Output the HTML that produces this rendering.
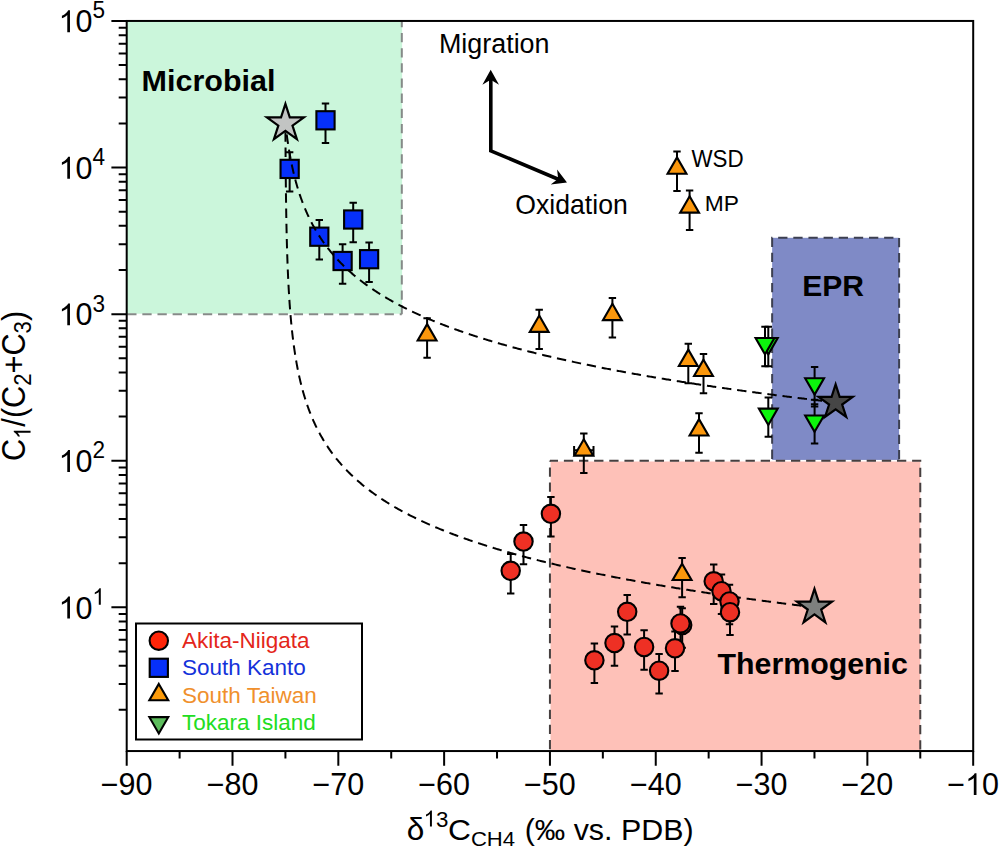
<!DOCTYPE html>
<html><head><meta charset="utf-8"><style>
html,body{margin:0;padding:0;background:#fff;}
svg{display:block;}
</style></head><body>
<svg width="1000" height="849" viewBox="0 0 1000 849">
<rect width="1000" height="849" fill="#fff"/>
<rect x="126.7" y="20.95" width="275.41" height="292.78" fill="#cbf6db"/>
<path d="M401.81,20.95 V314.13" fill="none" stroke="#868a88" stroke-width="2" stroke-dasharray="9.3 5.84" stroke-dashoffset="3.05"/>
<path d="M126.7,314.13 H401.81" fill="none" stroke="#868a88" stroke-width="2" stroke-dasharray="9.3 5.84" stroke-dashoffset="14.64"/>
<rect x="550.54" y="461.52" width="369.73" height="289.53" fill="#fec1b8"/>
<rect x="772.14" y="237.80" width="126.97" height="222.12" fill="#7f8ac6"/>
<path d="M549.94,460.72 H920.27 V751.05" fill="none" stroke="#463f3f" stroke-width="2" stroke-dasharray="9.3 5.84" stroke-dashoffset="1.2"/>
<path d="M549.94,460.72 V751.05" fill="none" stroke="#463f3f" stroke-width="2" stroke-dasharray="9.3 5.84" stroke-dashoffset="8.44"/>
<path d="M772.14,460.72 V237.80 H899.11 V460.72" fill="none" stroke="#3c3f50" stroke-width="2" stroke-dasharray="9.3 5.84" stroke-dashoffset="13.3"/>
<text x="141.62" y="91.00" font-family="'Liberation Sans', sans-serif" font-size="29.6" font-weight="bold" fill="#000" textLength="133.86" lengthAdjust="spacingAndGlyphs" >Microbial</text>
<text x="802.25" y="296.20" font-family="'Liberation Sans', sans-serif" font-size="29.8" font-weight="bold" fill="#000" textLength="61.79" lengthAdjust="spacingAndGlyphs" >EPR</text>
<text x="717.60" y="674.00" font-family="'Liberation Sans', sans-serif" font-size="29.6" font-weight="bold" fill="#000" textLength="190.28" lengthAdjust="spacingAndGlyphs" >Thermogenic</text>
<path d="M285.42,123.41 L285.43,126.52 L285.44,129.48 L285.45,132.31 L285.47,135.01 L285.48,137.61 L285.49,140.11 L285.51,142.51 L285.52,144.82 L285.53,147.06 L285.55,149.21 L285.56,151.30 L285.57,153.32 L285.59,155.28 L285.60,157.18 L285.61,159.03 L285.63,160.82 L285.64,162.56 L285.65,164.26 L285.67,165.91 L285.68,167.52 L285.69,169.10 L285.71,170.63 L285.72,172.13 L285.73,173.59 L285.75,175.02 L285.76,176.42 L285.77,177.79 L285.79,179.13 L285.80,180.44 L285.81,181.73 L285.83,182.99 L285.84,184.22 L285.85,185.44 L285.88,187.79 L285.90,190.07 L285.93,192.26 L285.96,194.38 L285.98,196.44 L286.01,198.43 L286.04,200.36 L286.06,202.23 L286.09,204.05 L286.12,205.82 L286.14,207.54 L286.17,209.21 L286.20,210.84 L286.22,212.43 L286.25,213.99 L286.27,215.50 L286.30,216.98 L286.33,218.43 L286.35,219.85 L286.38,221.23 L286.41,222.58 L286.43,223.91 L286.46,225.21 L286.49,226.48 L286.51,227.73 L286.54,228.95 L286.57,230.16 L286.61,231.92 L286.65,233.63 L286.68,235.30 L286.72,236.92 L286.76,238.51 L286.80,240.05 L286.84,241.56 L286.88,243.04 L286.92,244.48 L286.96,245.89 L287.00,247.27 L287.04,248.62 L287.08,249.94 L287.12,251.23 L287.16,252.50 L287.20,253.75 L287.24,254.97 L287.29,256.56 L287.35,258.11 L287.40,259.63 L287.45,261.11 L287.50,262.55 L287.56,263.97 L287.61,265.35 L287.66,266.71 L287.72,268.03 L287.77,269.33 L287.82,270.61 L287.88,271.86 L287.93,273.08 L287.98,274.28 L288.05,275.75 L288.11,277.19 L288.18,278.59 L288.25,279.97 L288.31,281.31 L288.38,282.63 L288.44,283.92 L288.51,285.19 L288.58,286.43 L288.64,287.65 L288.72,289.08 L288.80,290.48 L288.88,291.85 L288.96,293.19 L289.04,294.50 L289.12,295.79 L289.20,297.05 L289.28,298.28 L289.36,299.49 L289.45,300.88 L289.54,302.24 L289.63,303.57 L289.73,304.87 L289.82,306.14 L289.91,307.39 L290.00,308.62 L290.10,309.82 L290.20,311.17 L290.31,312.49 L290.41,313.78 L290.52,315.05 L290.63,316.29 L290.73,317.51 L290.84,318.70 L290.96,320.02 L291.08,321.31 L291.19,322.58 L291.31,323.82 L291.43,325.04 L291.55,326.23 L291.68,327.54 L291.82,328.81 L291.95,330.06 L292.08,331.29 L292.21,332.49 L292.36,333.79 L292.50,335.06 L292.65,336.31 L292.80,337.53 L292.94,338.73 L293.10,340.02 L293.26,341.28 L293.42,342.51 L293.58,343.72 L293.75,345.01 L293.92,346.27 L294.09,347.51 L294.26,348.72 L294.44,349.91 L294.62,351.16 L294.81,352.40 L294.99,353.61 L295.18,354.79 L295.37,356.04 L295.57,357.26 L295.77,358.47 L295.98,359.72 L296.19,360.95 L296.41,362.16 L296.62,363.35 L296.84,364.58 L297.07,365.80 L297.29,366.99 L297.53,368.22 L297.77,369.43 L298.01,370.62 L298.26,371.86 L298.51,373.07 L298.76,374.25 L299.02,375.48 L299.29,376.68 L299.55,377.86 L299.83,379.08 L300.11,380.27 L300.39,381.44 L300.68,382.65 L300.97,383.83 L301.27,385.04 L301.58,386.23 L301.88,387.40 L302.20,388.59 L302.52,389.77 L302.85,390.97 L303.18,392.15 L303.51,393.31 L303.85,394.49 L304.20,395.65 L304.55,396.83 L304.91,397.99 L305.28,399.17 L305.65,400.33 L306.03,401.51 L306.42,402.67 L306.80,403.81 L307.20,404.97 L307.60,406.10 L308.01,407.25 L308.42,408.39 L308.84,409.53 L309.26,410.66 L309.70,411.80 L310.13,412.93 L310.58,414.06 L311.03,415.18 L311.50,416.31 L311.96,417.41 L312.44,418.53 L312.93,419.67 L313.41,420.78 L313.92,421.90 L314.42,423.00 L314.94,424.12 L315.45,425.21 L315.98,426.31 L316.51,427.39 L317.05,428.49 L317.59,429.56 L318.15,430.64 L318.72,431.73 L319.29,432.80 L319.87,433.87 L320.45,434.93 L321.05,436.00 L321.64,437.04 L322.25,438.09 L322.86,439.13 L323.48,440.17 L324.12,441.22 L324.75,442.25 L325.40,443.28 L326.05,444.30 L326.71,445.32 L327.37,446.32 L328.04,447.33 L328.72,448.33 L329.41,449.32 L330.11,450.32 L330.81,451.31 L331.52,452.30 L332.24,453.27 L332.96,454.25 L333.69,455.21 L334.43,456.17 L335.17,457.12 L335.93,458.07 L336.68,459.01 L337.45,459.95 L338.21,460.88 L338.99,461.81 L339.77,462.72 L340.57,463.64 L341.36,464.55 L342.17,465.46 L342.98,466.35 L343.80,467.25 L344.62,468.13 L345.45,469.02 L346.28,469.89 L347.13,470.77 L347.98,471.63 L348.82,472.48 L349.68,473.33 L350.54,474.18 L351.41,475.02 L352.29,475.85 L353.17,476.69 L354.06,477.51 L354.95,478.33 L355.84,479.14 L356.74,479.95 L357.64,480.74 L358.56,481.54 L359.47,482.32 L360.39,483.11 L361.32,483.89 L362.25,484.66 L363.19,485.43 L364.12,486.19 L365.06,486.95 L366.02,487.70 L366.97,488.45 L367.92,489.18 L368.89,489.92 L369.85,490.65 L370.82,491.37 L371.78,492.09 L372.76,492.80 L373.74,493.51 L374.72,494.21 L375.71,494.91 L376.70,495.60 L377.69,496.29 L378.69,496.97 L379.69,497.65 L380.70,498.32 L381.70,498.99 L382.71,499.65 L383.73,500.31 L384.74,500.96 L385.76,501.61 L386.78,502.25 L387.80,502.89 L388.83,503.52 L389.86,504.15 L390.89,504.78 L391.93,505.39 L392.97,506.01 L394.02,506.63 L395.06,507.24 L396.11,507.84 L397.15,508.44 L398.20,509.03 L399.25,509.62 L400.31,510.21 L401.37,510.79 L402.43,511.37 L403.49,511.94 L404.54,512.51 L405.62,513.07 L406.69,513.64 L407.76,514.20 L408.83,514.75 L409.90,515.30 L410.97,515.84 L412.06,516.39 L413.14,516.93 L414.23,517.47 L415.31,518.00 L416.39,518.53 L417.48,519.05 L418.56,519.57 L419.65,520.09 L420.75,520.61 L421.84,521.12 L422.94,521.63 L424.04,522.13 L425.14,522.64 L426.23,523.13 L427.33,523.63 L428.43,524.12 L429.53,524.60 L430.64,525.09 L431.75,525.57 L432.86,526.05 L433.97,526.53 L435.08,527.01 L436.19,527.48 L437.31,527.94 L438.42,528.41 L439.53,528.87 L440.64,529.32 L441.76,529.78 L442.89,530.24 L444.01,530.69 L445.14,531.14 L446.26,531.58 L447.38,532.03 L448.51,532.46 L449.63,532.90 L450.76,533.34 L451.88,533.77 L453.00,534.19 L454.13,534.62 L455.25,535.04 L456.39,535.47 L457.53,535.89 L458.67,536.31 L459.80,536.72 L460.94,537.13 L462.08,537.55 L463.22,537.95 L464.35,538.36 L465.49,538.76 L466.63,539.16 L467.77,539.56 L468.90,539.95 L470.04,540.35 L471.18,540.74 L472.32,541.13 L473.45,541.51 L474.59,541.90 L475.74,542.28 L476.89,542.66 L478.04,543.04 L479.19,543.42 L480.34,543.80 L481.49,544.17 L482.64,544.55 L483.80,544.92 L484.95,545.28 L486.10,545.65 L487.25,546.01 L488.40,546.37 L489.55,546.73 L490.70,547.09 L491.85,547.45 L493.00,547.80 L494.15,548.15 L495.30,548.50 L496.45,548.85 L497.60,549.19 L498.75,549.54 L499.91,549.88 L501.07,550.22 L502.23,550.57 L503.40,550.91 L504.56,551.25 L505.72,551.58 L506.89,551.92 L508.05,552.25 L509.22,552.58 L510.38,552.91 L511.54,553.24 L512.71,553.57 L513.87,553.89 L515.04,554.21 L516.20,554.54 L517.36,554.86 L518.53,555.17 L519.69,555.49 L520.86,555.81 L522.02,556.12 L523.18,556.43 L524.35,556.74 L525.51,557.05 L526.68,557.36 L527.84,557.67 L529.00,557.97 L530.17,558.27 L531.33,558.57 L532.49,558.87 L533.66,559.17 L534.82,559.47 L535.99,559.77 L537.15,560.06 L538.31,560.36 L539.49,560.65 L540.67,560.94 L541.85,561.24 L543.02,561.53 L544.20,561.82 L545.38,562.11 L546.55,562.39 L547.73,562.68 L548.91,562.97 L550.09,563.25 L551.26,563.53 L552.44,563.81 L553.62,564.09 L554.79,564.37 L555.97,564.65 L557.15,564.92 L558.33,565.20 L559.50,565.47 L560.68,565.74 L561.86,566.02 L563.03,566.29 L564.21,566.56 L565.39,566.82 L566.57,567.09 L567.74,567.36 L568.92,567.62 L570.10,567.88 L571.27,568.15 L572.45,568.41 L573.63,568.67 L574.81,568.93 L575.98,569.19 L577.16,569.44 L578.34,569.70 L579.51,569.95 L580.69,570.21 L581.87,570.46 L583.05,570.71 L584.22,570.96 L585.40,571.21 L586.58,571.46 L587.75,571.71 L588.93,571.96 L590.11,572.21 L591.29,572.45 L592.46,572.70 L593.64,572.94 L594.82,573.18 L595.99,573.42 L597.17,573.66 L598.35,573.90 L599.53,574.14 L600.70,574.38 L601.88,574.62 L603.06,574.85 L604.23,575.09 L605.41,575.32 L606.59,575.56 L607.78,575.79 L608.97,576.03 L610.16,576.26 L611.35,576.49 L612.54,576.72 L613.73,576.96 L614.92,577.19 L616.11,577.41 L617.30,577.64 L618.49,577.87 L619.68,578.10 L620.87,578.32 L622.06,578.55 L623.25,578.77 L624.44,579.00 L625.63,579.22 L626.82,579.44 L628.01,579.66 L629.20,579.88 L630.40,580.10 L631.59,580.32 L632.78,580.54 L633.97,580.76 L635.16,580.98 L636.35,581.19 L637.54,581.41 L638.73,581.62 L639.92,581.84 L641.11,582.05 L642.30,582.26 L643.49,582.47 L644.68,582.69 L645.87,582.90 L647.06,583.11 L648.25,583.32 L649.44,583.52 L650.63,583.73 L651.82,583.94 L653.01,584.14 L654.20,584.35 L655.39,584.56 L656.58,584.76 L657.77,584.96 L658.96,585.17 L660.15,585.37 L661.34,585.57 L662.54,585.77 L663.73,585.97 L664.92,586.17 L666.11,586.37 L667.30,586.57 L668.49,586.77 L669.68,586.97 L670.87,587.16 L672.06,587.36 L673.25,587.55 L674.44,587.75 L675.63,587.94 L676.82,588.14 L678.01,588.33 L679.20,588.52 L680.39,588.71 L681.58,588.91 L682.77,589.10 L683.96,589.29 L685.15,589.48 L686.34,589.67 L687.53,589.85 L688.72,590.04 L689.91,590.23 L691.10,590.42 L692.29,590.60 L693.48,590.79 L694.67,590.97 L695.87,591.16 L697.06,591.34 L698.25,591.53 L699.44,591.71 L700.63,591.89 L701.82,592.08 L703.01,592.26 L704.20,592.44 L705.39,592.62 L706.58,592.80 L707.77,592.98 L708.96,593.16 L710.15,593.34 L711.34,593.51 L712.53,593.69 L713.72,593.87 L714.91,594.05 L716.10,594.22 L717.29,594.40 L718.48,594.57 L719.67,594.75 L720.86,594.92 L722.05,595.09 L723.24,595.27 L724.43,595.44 L725.62,595.61 L726.81,595.78 L728.01,595.96 L729.20,596.13 L730.39,596.30 L731.58,596.47 L732.77,596.64 L733.96,596.81 L735.15,596.97 L736.34,597.14 L737.53,597.31 L738.72,597.48 L739.91,597.64 L741.10,597.81 L742.29,597.98 L743.48,598.14 L744.67,598.31 L745.86,598.47 L747.05,598.64 L748.24,598.80 L749.43,598.96 L750.62,599.13 L751.81,599.29 L753.00,599.45 L754.19,599.61 L755.38,599.78 L756.57,599.94 L757.76,600.10 L758.95,600.26 L760.14,600.42 L761.34,600.58 L762.53,600.73 L763.72,600.89 L764.91,601.05 L766.10,601.21 L767.29,601.37 L768.48,601.52 L769.67,601.68 L770.86,601.84 L772.05,601.99 L773.24,602.15 L774.43,602.30 L775.62,602.46 L776.81,602.61 L778.00,602.77 L779.19,602.92 L780.38,603.07 L781.57,603.23 L782.76,603.38 L783.95,603.53 L785.16,603.68 L786.36,603.84 L787.56,603.99 L788.77,604.14 L789.97,604.29 L791.17,604.45 L792.38,604.60 L793.58,604.75 L794.78,604.90 L795.99,605.05 L797.19,605.20 L798.40,605.35 L799.60,605.50 L800.80,605.65 L802.01,605.79 L803.21,605.94 L804.41,606.09 L805.62,606.24 L806.82,606.38 L808.02,606.53 L809.23,606.68 L810.43,606.82 L811.63,606.97 L812.84,607.11 L814.04,607.26 L814.47,607.31" fill="none" stroke="#000" stroke-width="2" stroke-dasharray="9.4 5.85" stroke-dashoffset="6.4"/>
<path d="M325.50,103.60 V143.01 M321.80,103.60 H329.20 M321.80,143.01 H329.20" stroke="#000" stroke-width="2" fill="none"/>
<path d="M289.65,152.20 V191.61 M285.95,152.20 H293.35 M285.95,191.61 H293.35" stroke="#000" stroke-width="2" fill="none"/>
<path d="M319.30,220.00 V259.41 M315.60,220.00 H323.00 M315.60,259.41 H323.00" stroke="#000" stroke-width="2" fill="none"/>
<path d="M353.20,202.80 V242.21 M349.50,202.80 H356.90 M349.50,242.21 H356.90" stroke="#000" stroke-width="2" fill="none"/>
<path d="M342.60,244.30 V283.71 M338.90,244.30 H346.30 M338.90,283.71 H346.30" stroke="#000" stroke-width="2" fill="none"/>
<path d="M369.10,242.50 V281.91 M365.40,242.50 H372.80 M365.40,281.91 H372.80" stroke="#000" stroke-width="2" fill="none"/>
<rect x="316.40" y="111.20" width="18.20" height="18.20" fill="#0630fa" stroke="#000" stroke-width="2.1"/>
<rect x="280.55" y="159.80" width="18.20" height="18.20" fill="#0630fa" stroke="#000" stroke-width="2.1"/>
<rect x="310.20" y="227.60" width="18.20" height="18.20" fill="#0630fa" stroke="#000" stroke-width="2.1"/>
<rect x="344.10" y="210.40" width="18.20" height="18.20" fill="#0630fa" stroke="#000" stroke-width="2.1"/>
<rect x="333.50" y="251.90" width="18.20" height="18.20" fill="#0630fa" stroke="#000" stroke-width="2.1"/>
<rect x="360.00" y="250.10" width="18.20" height="18.20" fill="#0630fa" stroke="#000" stroke-width="2.1"/>
<path d="M285.42,123.41 L285.55,124.66 L285.69,125.88 L285.83,127.08 L285.98,128.37 L286.13,129.64 L286.28,130.88 L286.43,132.10 L286.58,133.29 L286.75,134.57 L286.91,135.82 L287.08,137.05 L287.24,138.26 L287.42,139.54 L287.60,140.80 L287.78,142.03 L287.96,143.24 L288.15,144.51 L288.34,145.77 L288.54,146.99 L288.73,148.20 L288.94,149.46 L289.14,150.70 L289.35,151.92 L289.56,153.11 L289.78,154.36 L290.00,155.59 L290.22,156.79 L290.44,157.97 L290.67,159.20 L290.90,160.41 L291.14,161.59 L291.38,162.82 L291.63,164.03 L291.88,165.21 L292.14,166.44 L292.40,167.64 L292.66,168.83 L292.94,170.05 L293.21,171.24 L293.49,172.42 L293.78,173.63 L294.07,174.82 L294.36,175.99 L294.66,177.19 L294.96,178.36 L295.28,179.57 L295.59,180.76 L295.91,181.92 L296.24,183.11 L296.57,184.29 L296.91,185.48 L297.26,186.66 L297.60,187.81 L297.96,188.99 L298.32,190.14 L298.69,191.32 L299.06,192.48 L299.45,193.66 L299.83,194.82 L300.22,195.95 L300.61,197.11 L301.01,198.25 L301.43,199.40 L301.84,200.53 L302.27,201.68 L302.69,202.81 L303.13,203.96 L303.57,205.08 L304.03,206.22 L304.48,207.34 L304.95,208.48 L305.42,209.59 L305.90,210.72 L306.38,211.83 L306.87,212.94 L307.37,214.04 L307.88,215.15 L308.39,216.25 L308.91,217.35 L309.43,218.43 L309.97,219.52 L310.50,220.60 L311.05,221.68 L311.62,222.77 L312.18,223.85 L312.76,224.93 L313.34,225.99 L313.93,227.06 L314.52,228.11 L315.13,229.17 L315.73,230.22 L316.35,231.26 L316.97,232.30 L317.60,233.33 L318.24,234.35 L318.88,235.38 L319.54,236.41 L320.20,237.43 L320.88,238.45 L321.55,239.45 L322.24,240.46 L322.93,241.45 L323.63,242.45 L324.33,243.43 L325.04,244.41 L325.76,245.38 L326.49,246.35 L327.22,247.31 L327.96,248.28 L328.70,249.22 L329.46,250.18 L330.22,251.11 L330.99,252.05 L331.76,252.98 L332.54,253.91 L333.32,254.83 L334.12,255.74 L334.92,256.65 L335.73,257.56 L336.54,258.45 L337.37,259.35 L338.19,260.24 L339.02,261.11 L339.86,261.99 L340.70,262.85 L341.55,263.72 L342.40,264.57 L343.27,265.43 L344.14,266.27 L345.00,267.11 L345.88,267.95 L346.76,268.77 L347.66,269.60 L348.55,270.42 L349.45,271.22 L350.35,272.03 L351.26,272.83 L352.17,273.62 L353.09,274.41 L354.01,275.19 L354.93,275.96 L355.87,276.74 L356.81,277.50 L357.74,278.26 L358.69,279.01 L359.64,279.76 L360.59,280.50 L361.55,281.25 L362.51,281.98 L363.48,282.70 L364.44,283.42 L365.42,284.14 L366.39,284.85 L367.37,285.55 L368.36,286.26 L369.35,286.96 L370.34,287.65 L371.33,288.33 L372.33,289.01 L373.34,289.69 L374.34,290.36 L375.35,291.02 L376.37,291.69 L377.38,292.35 L378.40,293.00 L379.42,293.64 L380.44,294.28 L381.47,294.92 L382.50,295.56 L383.53,296.19 L384.56,296.81 L385.59,297.42 L386.64,298.04 L387.69,298.65 L388.73,299.26 L389.78,299.86 L390.82,300.46 L391.87,301.05 L392.93,301.64 L393.99,302.22 L395.04,302.81 L396.10,303.38 L397.16,303.95 L398.22,304.52 L399.30,305.08 L400.37,305.65 L401.44,306.21 L402.51,306.76 L403.59,307.31 L404.66,307.85 L405.73,308.39 L406.82,308.93 L407.91,309.47 L408.99,310.00 L410.08,310.53 L411.17,311.05 L412.25,311.57 L413.34,312.08 L414.43,312.59 L415.53,313.11 L416.63,313.62 L417.73,314.12 L418.83,314.62 L419.93,315.12 L421.03,315.61 L422.13,316.10 L423.23,316.59 L424.33,317.07 L425.44,317.56 L426.56,318.04 L427.67,318.51 L428.79,318.99 L429.90,319.46 L431.01,319.92 L432.13,320.39 L433.24,320.85 L434.36,321.30 L435.47,321.76 L436.59,322.21 L437.70,322.65 L438.83,323.10 L439.96,323.55 L441.08,323.99 L442.21,324.43 L443.34,324.87 L444.47,325.30 L445.60,325.73 L446.72,326.16 L447.85,326.59 L448.98,327.01 L450.11,327.43 L451.24,327.85 L452.36,328.26 L453.49,328.67 L454.63,329.09 L455.77,329.50 L456.92,329.91 L458.06,330.31 L459.20,330.72 L460.34,331.12 L461.48,331.51 L462.62,331.91 L463.77,332.30 L464.91,332.70 L466.05,333.08 L467.19,333.47 L468.33,333.85 L469.47,334.24 L470.62,334.62 L471.76,334.99 L472.90,335.37 L474.04,335.74 L475.18,336.11 L476.34,336.48 L477.49,336.85 L478.65,337.22 L479.80,337.59 L480.96,337.95 L482.12,338.32 L483.27,338.68 L484.43,339.03 L485.58,339.39 L486.74,339.74 L487.89,340.10 L489.05,340.45 L490.20,340.79 L491.36,341.14 L492.51,341.49 L493.67,341.83 L494.83,342.17 L495.98,342.51 L497.14,342.85 L498.29,343.18 L499.45,343.51 L500.60,343.85 L501.76,344.18 L502.91,344.51 L504.07,344.83 L505.22,345.16 L506.39,345.48 L507.56,345.81 L508.73,346.13 L509.90,346.46 L511.07,346.78 L512.24,347.10 L513.41,347.41 L514.58,347.73 L515.75,348.05 L516.92,348.36 L518.09,348.67 L519.26,348.98 L520.42,349.29 L521.59,349.59 L522.76,349.90 L523.93,350.20 L525.10,350.51 L526.27,350.81 L527.44,351.11 L528.61,351.41 L529.78,351.70 L530.95,352.00 L532.12,352.29 L533.29,352.58 L534.45,352.88 L535.62,353.17 L536.79,353.45 L537.96,353.74 L539.13,354.03 L540.30,354.31 L541.47,354.60 L542.64,354.88 L543.81,355.16 L544.98,355.44 L546.15,355.72 L547.32,356.00 L548.49,356.27 L549.65,356.55 L550.82,356.82 L551.99,357.09 L553.16,357.37 L554.33,357.64 L555.51,357.91 L556.70,358.18 L557.88,358.45 L559.06,358.72 L560.25,358.99 L561.43,359.25 L562.61,359.52 L563.79,359.78 L564.98,360.05 L566.16,360.31 L567.34,360.57 L568.53,360.83 L569.71,361.09 L570.89,361.35 L572.08,361.60 L573.26,361.86 L574.44,362.12 L575.62,362.37 L576.81,362.62 L577.99,362.87 L579.17,363.13 L580.36,363.38 L581.54,363.62 L582.72,363.87 L583.91,364.12 L585.09,364.37 L586.27,364.61 L587.45,364.85 L588.64,365.10 L589.82,365.34 L591.00,365.58 L592.19,365.82 L593.37,366.06 L594.55,366.30 L595.73,366.54 L596.92,366.78 L598.10,367.01 L599.28,367.25 L600.47,367.48 L601.65,367.71 L602.83,367.95 L604.02,368.18 L605.20,368.41 L606.38,368.64 L607.56,368.87 L608.75,369.10 L609.93,369.32 L611.11,369.55 L612.30,369.78 L613.48,370.00 L614.66,370.23 L615.84,370.45 L617.03,370.67 L618.21,370.90 L619.39,371.12 L620.58,371.34 L621.76,371.56 L622.94,371.78 L624.13,371.99 L625.31,372.21 L626.49,372.43 L627.67,372.64 L628.86,372.86 L630.04,373.07 L631.22,373.29 L632.41,373.50 L633.59,373.71 L634.77,373.93 L635.96,374.14 L637.14,374.35 L638.32,374.56 L639.50,374.77 L640.69,374.97 L641.87,375.18 L643.05,375.39 L644.24,375.59 L645.42,375.80 L646.60,376.00 L647.78,376.21 L648.97,376.41 L650.15,376.62 L651.33,376.82 L652.52,377.02 L653.71,377.22 L654.91,377.43 L656.11,377.63 L657.30,377.83 L658.50,378.03 L659.70,378.23 L660.89,378.43 L662.09,378.63 L663.29,378.83 L664.48,379.02 L665.68,379.22 L666.88,379.42 L668.07,379.61 L669.27,379.81 L670.47,380.00 L671.66,380.20 L672.86,380.39 L674.06,380.58 L675.25,380.78 L676.45,380.97 L677.65,381.16 L678.84,381.35 L680.04,381.54 L681.24,381.73 L682.43,381.92 L683.63,382.11 L684.83,382.29 L686.02,382.48 L687.22,382.67 L688.42,382.85 L689.61,383.04 L690.81,383.22 L692.01,383.41 L693.20,383.59 L694.40,383.78 L695.60,383.96 L696.79,384.14 L697.99,384.32 L699.19,384.50 L700.38,384.69 L701.58,384.87 L702.78,385.05 L703.98,385.22 L705.17,385.40 L706.37,385.58 L707.57,385.76 L708.76,385.94 L709.96,386.11 L711.16,386.29 L712.35,386.47 L713.55,386.64 L714.75,386.82 L715.94,386.99 L717.14,387.16 L718.34,387.34 L719.53,387.51 L720.73,387.68 L721.93,387.86 L723.12,388.03 L724.32,388.20 L725.52,388.37 L726.71,388.54 L727.91,388.71 L729.11,388.88 L730.30,389.05 L731.50,389.22 L732.70,389.38 L733.89,389.55 L735.09,389.72 L736.29,389.88 L737.48,390.05 L738.68,390.22 L739.88,390.38 L741.07,390.55 L742.27,390.71 L743.47,390.88 L744.66,391.04 L745.86,391.20 L747.06,391.36 L748.25,391.53 L749.45,391.69 L750.65,391.85 L751.84,392.01 L753.04,392.17 L754.24,392.33 L755.43,392.49 L756.63,392.65 L757.83,392.81 L759.02,392.97 L760.22,393.13 L761.42,393.29 L762.61,393.44 L763.81,393.60 L765.01,393.76 L766.20,393.91 L767.40,394.07 L768.60,394.23 L769.79,394.38 L770.99,394.54 L772.19,394.69 L773.38,394.84 L774.58,395.00 L775.78,395.15 L776.97,395.30 L778.17,395.46 L779.37,395.61 L780.56,395.76 L781.76,395.91 L782.96,396.06 L784.15,396.22 L785.35,396.37 L786.55,396.52 L787.74,396.67 L788.94,396.81 L790.14,396.96 L791.33,397.11 L792.53,397.26 L793.73,397.41 L794.93,397.56 L796.12,397.70 L797.32,397.85 L798.52,398.00 L799.71,398.14 L800.91,398.29 L802.11,398.44 L803.30,398.58 L804.50,398.73 L805.70,398.87 L806.89,399.02 L808.09,399.16 L809.29,399.30 L810.48,399.45 L811.68,399.59 L812.88,399.73 L814.07,399.87 L815.27,400.02 L816.47,400.16 L817.66,400.30 L818.86,400.44 L820.06,400.58 L821.25,400.72 L822.45,400.86 L823.65,401.00 L824.84,401.14 L826.04,401.28 L827.24,401.42 L828.43,401.56 L829.63,401.70 L830.83,401.84 L832.02,401.97 L833.22,402.11 L834.42,402.25 L835.61,402.38 L835.63,402.39" fill="none" stroke="#000" stroke-width="2" stroke-dasharray="9.4 5.85" stroke-dashoffset="4.08"/>
<path d="M550.90,497.10 V536.51 M547.20,497.10 H554.60 M547.20,536.51 H554.60" stroke="#000" stroke-width="2" fill="none"/>
<path d="M523.50,524.90 V564.31 M519.80,524.90 H527.20 M519.80,564.31 H527.20" stroke="#000" stroke-width="2" fill="none"/>
<path d="M510.70,554.10 V593.51 M507.00,554.10 H514.40 M507.00,593.51 H514.40" stroke="#000" stroke-width="2" fill="none"/>
<path d="M594.40,643.60 V683.01 M590.70,643.60 H598.10 M590.70,683.01 H598.10" stroke="#000" stroke-width="2" fill="none"/>
<path d="M614.50,626.40 V665.81 M610.80,626.40 H618.20 M610.80,665.81 H618.20" stroke="#000" stroke-width="2" fill="none"/>
<path d="M627.20,595.10 V634.51 M623.50,595.10 H630.90 M623.50,634.51 H630.90" stroke="#000" stroke-width="2" fill="none"/>
<path d="M644.10,630.30 V669.71 M640.40,630.30 H647.80 M640.40,669.71 H647.80" stroke="#000" stroke-width="2" fill="none"/>
<path d="M659.10,654.00 V693.41 M655.40,654.00 H662.80 M655.40,693.41 H662.80" stroke="#000" stroke-width="2" fill="none"/>
<path d="M675.00,631.60 V671.01 M671.30,631.60 H678.70 M671.30,671.01 H678.70" stroke="#000" stroke-width="2" fill="none"/>
<path d="M682.20,608.30 V647.71 M678.50,608.30 H685.90 M678.50,647.71 H685.90" stroke="#000" stroke-width="2" fill="none"/>
<path d="M680.50,606.70 V646.11 M676.80,606.70 H684.20 M676.80,646.11 H684.20" stroke="#000" stroke-width="2" fill="none"/>
<path d="M713.70,564.60 V604.01 M710.00,564.60 H717.40 M710.00,604.01 H717.40" stroke="#000" stroke-width="2" fill="none"/>
<path d="M721.50,574.50 V613.91 M717.80,574.50 H725.20 M717.80,613.91 H725.20" stroke="#000" stroke-width="2" fill="none"/>
<path d="M729.50,584.80 V624.21 M725.80,584.80 H733.20 M725.80,624.21 H733.20" stroke="#000" stroke-width="2" fill="none"/>
<path d="M730.00,595.50 V634.91 M726.30,595.50 H733.70 M726.30,634.91 H733.70" stroke="#000" stroke-width="2" fill="none"/>
<circle cx="550.90" cy="513.80" r="9.2" fill="#ee3024" stroke="#000" stroke-width="2.1"/>
<circle cx="523.50" cy="541.60" r="9.2" fill="#ee3024" stroke="#000" stroke-width="2.1"/>
<circle cx="510.70" cy="570.80" r="9.2" fill="#ee3024" stroke="#000" stroke-width="2.1"/>
<circle cx="594.40" cy="660.30" r="9.2" fill="#ee3024" stroke="#000" stroke-width="2.1"/>
<circle cx="614.50" cy="643.10" r="9.2" fill="#ee3024" stroke="#000" stroke-width="2.1"/>
<circle cx="627.20" cy="611.80" r="9.2" fill="#ee3024" stroke="#000" stroke-width="2.1"/>
<circle cx="644.10" cy="647.00" r="9.2" fill="#ee3024" stroke="#000" stroke-width="2.1"/>
<circle cx="659.10" cy="670.70" r="9.2" fill="#ee3024" stroke="#000" stroke-width="2.1"/>
<circle cx="675.00" cy="648.30" r="9.2" fill="#ee3024" stroke="#000" stroke-width="2.1"/>
<circle cx="682.20" cy="625.00" r="9.2" fill="#ee3024" stroke="#000" stroke-width="2.1"/>
<circle cx="680.50" cy="623.40" r="9.2" fill="#ee3024" stroke="#000" stroke-width="2.1"/>
<circle cx="713.70" cy="581.30" r="9.2" fill="#ee3024" stroke="#000" stroke-width="2.1"/>
<circle cx="721.50" cy="591.20" r="9.2" fill="#ee3024" stroke="#000" stroke-width="2.1"/>
<circle cx="729.50" cy="601.50" r="9.2" fill="#ee3024" stroke="#000" stroke-width="2.1"/>
<circle cx="730.00" cy="612.20" r="9.2" fill="#ee3024" stroke="#000" stroke-width="2.1"/>
<path d="M427.10,318.30 V357.71 M423.40,318.30 H430.80 M423.40,357.71 H430.80" stroke="#000" stroke-width="2" fill="none"/>
<path d="M539.20,309.70 V349.11 M535.50,309.70 H542.90 M535.50,349.11 H542.90" stroke="#000" stroke-width="2" fill="none"/>
<path d="M612.40,298.00 V337.41 M608.70,298.00 H616.10 M608.70,337.41 H616.10" stroke="#000" stroke-width="2" fill="none"/>
<path d="M677.00,151.60 V191.01 M673.30,151.60 H680.70 M673.30,191.01 H680.70" stroke="#000" stroke-width="2" fill="none"/>
<path d="M689.60,190.50 V229.91 M685.90,190.50 H693.30 M685.90,229.91 H693.30" stroke="#000" stroke-width="2" fill="none"/>
<path d="M688.30,343.80 V383.21 M684.60,343.80 H692.00 M684.60,383.21 H692.00" stroke="#000" stroke-width="2" fill="none"/>
<path d="M703.50,353.90 V393.31 M699.80,353.90 H707.20 M699.80,393.31 H707.20" stroke="#000" stroke-width="2" fill="none"/>
<path d="M699.00,413.30 V452.71 M695.30,413.30 H702.70 M695.30,452.71 H702.70" stroke="#000" stroke-width="2" fill="none"/>
<path d="M682.10,557.90 V597.31 M678.40,557.90 H685.80 M678.40,597.31 H685.80" stroke="#000" stroke-width="2" fill="none"/>
<path d="M583.80,433.50 V472.91 M580.10,433.50 H587.50 M580.10,472.91 H587.50" stroke="#000" stroke-width="2" fill="none"/>
<path d="M574.10,450.20 H593.50 M574.10,445.90 V455.70 M593.50,445.90 V455.70" stroke="#000" stroke-width="2" fill="none"/>
<polygon points="427.10,324.10 436.54,340.45 417.66,340.45" fill="#fb970c" stroke="#000" stroke-width="2.1" stroke-linejoin="miter"/>
<polygon points="539.20,315.50 548.64,331.85 529.76,331.85" fill="#fb970c" stroke="#000" stroke-width="2.1" stroke-linejoin="miter"/>
<polygon points="612.40,303.80 621.84,320.15 602.96,320.15" fill="#fb970c" stroke="#000" stroke-width="2.1" stroke-linejoin="miter"/>
<polygon points="677.00,157.40 686.44,173.75 667.56,173.75" fill="#fb970c" stroke="#000" stroke-width="2.1" stroke-linejoin="miter"/>
<polygon points="689.60,196.30 699.04,212.65 680.16,212.65" fill="#fb970c" stroke="#000" stroke-width="2.1" stroke-linejoin="miter"/>
<polygon points="688.30,349.60 697.74,365.95 678.86,365.95" fill="#fb970c" stroke="#000" stroke-width="2.1" stroke-linejoin="miter"/>
<polygon points="703.50,359.70 712.94,376.05 694.06,376.05" fill="#fb970c" stroke="#000" stroke-width="2.1" stroke-linejoin="miter"/>
<polygon points="699.00,419.10 708.44,435.45 689.56,435.45" fill="#fb970c" stroke="#000" stroke-width="2.1" stroke-linejoin="miter"/>
<polygon points="682.10,563.70 691.54,580.05 672.66,580.05" fill="#fb970c" stroke="#000" stroke-width="2.1" stroke-linejoin="miter"/>
<polygon points="583.80,439.30 593.24,455.65 574.36,455.65" fill="#fb970c" stroke="#000" stroke-width="2.1" stroke-linejoin="miter"/>
<path d="M768.30,326.80 V366.21 M764.60,326.80 H772.00 M764.60,366.21 H772.00" stroke="#000" stroke-width="2" fill="none"/>
<path d="M765.00,326.80 V366.21 M761.30,326.80 H768.70 M761.30,366.21 H768.70" stroke="#000" stroke-width="2" fill="none"/>
<path d="M768.30,397.40 V436.81 M764.60,397.40 H772.00 M764.60,436.81 H772.00" stroke="#000" stroke-width="2" fill="none"/>
<path d="M814.60,367.00 V406.41 M810.90,367.00 H818.30 M810.90,406.41 H818.30" stroke="#000" stroke-width="2" fill="none"/>
<path d="M814.60,404.20 V443.61 M810.90,404.20 H818.30 M810.90,443.61 H818.30" stroke="#000" stroke-width="2" fill="none"/>
<path d="M810.90,399.8 H818.30" stroke="#000" stroke-width="2"/>
<polygon points="768.30,354.40 777.74,338.05 758.86,338.05" fill="#0cf50c" stroke="#000" stroke-width="2.1" stroke-linejoin="miter"/>
<polygon points="765.00,354.40 774.44,338.05 755.56,338.05" fill="#0cf50c" stroke="#000" stroke-width="2.1" stroke-linejoin="miter"/>
<polygon points="768.30,425.00 777.74,408.65 758.86,408.65" fill="#0cf50c" stroke="#000" stroke-width="2.1" stroke-linejoin="miter"/>
<polygon points="814.60,394.60 824.04,378.25 805.16,378.25" fill="#0cf50c" stroke="#000" stroke-width="2.1" stroke-linejoin="miter"/>
<polygon points="814.60,431.80 824.04,415.45 805.16,415.45" fill="#0cf50c" stroke="#000" stroke-width="2.1" stroke-linejoin="miter"/>
<polygon points="285.42,103.91 289.79,117.39 303.96,117.39 292.50,125.71 296.88,139.19 285.42,130.86 273.95,139.19 278.33,125.71 266.87,117.39 281.04,117.39" fill="#c2c4c3" stroke="#000" stroke-width="2.2" stroke-linejoin="miter" stroke-miterlimit="10"/>
<polygon points="835.63,384.39 839.67,396.82 852.75,396.82 842.17,404.51 846.21,416.95 835.63,409.26 825.05,416.95 829.09,404.51 818.51,396.82 831.59,396.82" fill="#464646" stroke="#000" stroke-width="2.2" stroke-linejoin="miter" stroke-miterlimit="10"/>
<polygon points="814.47,588.81 818.62,601.59 832.06,601.59 821.19,609.49 825.34,622.28 814.47,614.38 803.59,622.28 807.74,609.49 796.87,601.59 810.31,601.59" fill="#7e807e" stroke="#000" stroke-width="2.2" stroke-linejoin="miter" stroke-miterlimit="10"/>
<text x="691.49" y="167.40" font-family="'Liberation Sans', sans-serif" font-size="23.0" fill="#000" textLength="52.19" lengthAdjust="spacingAndGlyphs" >WSD</text>
<text x="704.78" y="211.40" font-family="'Liberation Sans', sans-serif" font-size="22.8" fill="#000" textLength="34.16" lengthAdjust="spacingAndGlyphs" >MP</text>
<text x="438.95" y="52.70" font-family="'Liberation Sans', sans-serif" font-size="27.0" fill="#000" textLength="110.58" lengthAdjust="spacingAndGlyphs" >Migration</text>
<text x="515.30" y="213.70" font-family="'Liberation Sans', sans-serif" font-size="26.9" fill="#000" textLength="112.52" lengthAdjust="spacingAndGlyphs" >Oxidation</text>
<path d="M490.8,78 V150.8 L560,180" fill="none" stroke="#000" stroke-width="3.6" stroke-linejoin="miter"/>
<polygon points="490.7,69.8 499,84.8 490.7,79.8 482.4,84.8" fill="#000"/>
<polygon points="567.00,182.50 557.09,169.43 558.15,178.77 550.73,184.55" fill="#000"/>
<rect x="126.7" y="20.95" width="846.50" height="730.10" fill="none" stroke="#000" stroke-width="2"/>
<path d="M126.70,751.05 V765.8499999999999 M232.51,751.05 V765.8499999999999 M338.32,751.05 V765.8499999999999 M444.13,751.05 V765.8499999999999 M549.94,751.05 V765.8499999999999 M655.75,751.05 V765.8499999999999 M761.56,751.05 V765.8499999999999 M867.37,751.05 V765.8499999999999 M973.18,751.05 V765.8499999999999 M179.61,751.05 V758.55 M285.42,751.05 V758.55 M391.22,751.05 V758.55 M497.03,751.05 V758.55 M602.85,751.05 V758.55 M708.65,751.05 V758.55 M814.47,751.05 V758.55 M920.27,751.05 V758.55 M126.7,607.31 H111.4 M126.7,460.72 H111.4 M126.7,314.13 H111.4 M126.7,167.54 H111.4 M126.7,20.95 H111.4 M126.7,709.77 H118.7 M126.7,683.96 H118.7 M126.7,665.64 H118.7 M126.7,651.44 H118.7 M126.7,639.83 H118.7 M126.7,630.02 H118.7 M126.7,621.52 H118.7 M126.7,614.02 H118.7 M126.7,563.18 H118.7 M126.7,537.37 H118.7 M126.7,519.05 H118.7 M126.7,504.85 H118.7 M126.7,493.24 H118.7 M126.7,483.43 H118.7 M126.7,474.93 H118.7 M126.7,467.43 H118.7 M126.7,416.59 H118.7 M126.7,390.78 H118.7 M126.7,372.46 H118.7 M126.7,358.26 H118.7 M126.7,346.65 H118.7 M126.7,336.84 H118.7 M126.7,328.34 H118.7 M126.7,320.84 H118.7 M126.7,270.00 H118.7 M126.7,244.19 H118.7 M126.7,225.87 H118.7 M126.7,211.67 H118.7 M126.7,200.06 H118.7 M126.7,190.25 H118.7 M126.7,181.75 H118.7 M126.7,174.25 H118.7 M126.7,123.41 H118.7 M126.7,97.60 H118.7 M126.7,79.28 H118.7 M126.7,65.08 H118.7 M126.7,53.47 H118.7 M126.7,43.66 H118.7 M126.7,35.16 H118.7 M126.7,27.66 H118.7" stroke="#000" stroke-width="2" fill="none"/>
<text x="126.70" y="795.1" font-family="'Liberation Sans', sans-serif" font-size="30.5" text-anchor="middle">−90</text>
<text x="232.51" y="795.1" font-family="'Liberation Sans', sans-serif" font-size="30.5" text-anchor="middle">−80</text>
<text x="338.32" y="795.1" font-family="'Liberation Sans', sans-serif" font-size="30.5" text-anchor="middle">−70</text>
<text x="444.13" y="795.1" font-family="'Liberation Sans', sans-serif" font-size="30.5" text-anchor="middle">−60</text>
<text x="549.94" y="795.1" font-family="'Liberation Sans', sans-serif" font-size="30.5" text-anchor="middle">−50</text>
<text x="655.75" y="795.1" font-family="'Liberation Sans', sans-serif" font-size="30.5" text-anchor="middle">−40</text>
<text x="761.56" y="795.1" font-family="'Liberation Sans', sans-serif" font-size="30.5" text-anchor="middle">−30</text>
<text x="867.37" y="795.1" font-family="'Liberation Sans', sans-serif" font-size="30.5" text-anchor="middle">−20</text>
<text x="947.31" y="795.1" font-family="'Liberation Sans', sans-serif" font-size="30.5">−</text>
<path d="M763,0 L583,0 L583,1147 Q518,1085 412,1023 Q306,961 222,930 L222,1104 Q373,1175 486,1276 Q599,1377 646,1472 L763,1472 Z" transform="translate(965.12,795.10) scale(0.01489,-0.01489)" fill="#000"/>
<text x="982.09" y="795.1" font-family="'Liberation Sans', sans-serif" font-size="30.5">0</text>
<path d="M763,0 L583,0 L583,1147 Q518,1085 412,1023 Q306,961 222,930 L222,1104 Q373,1175 486,1276 Q599,1377 646,1472 L763,1472 Z" transform="translate(58.60,618.51) scale(0.01489,-0.01489)" fill="#000"/>
<text x="75.56" y="618.51" font-family="'Liberation Sans', sans-serif" font-size="30.5">0</text>
<path d="M763,0 L583,0 L583,1147 Q518,1085 412,1023 Q306,961 222,930 L222,1104 Q373,1175 486,1276 Q599,1377 646,1472 L763,1472 Z" transform="translate(92.30,604.71) scale(0.01113,-0.01113)" fill="#000"/>
<path d="M763,0 L583,0 L583,1147 Q518,1085 412,1023 Q306,961 222,930 L222,1104 Q373,1175 486,1276 Q599,1377 646,1472 L763,1472 Z" transform="translate(58.60,471.92) scale(0.01489,-0.01489)" fill="#000"/>
<text x="75.56" y="471.92" font-family="'Liberation Sans', sans-serif" font-size="30.5">0</text>
<text transform="translate(92.4,458.12) scale(0.94,1)" font-family="'Liberation Sans', sans-serif" font-size="24">2</text>
<path d="M763,0 L583,0 L583,1147 Q518,1085 412,1023 Q306,961 222,930 L222,1104 Q373,1175 486,1276 Q599,1377 646,1472 L763,1472 Z" transform="translate(58.60,325.33) scale(0.01489,-0.01489)" fill="#000"/>
<text x="75.56" y="325.33" font-family="'Liberation Sans', sans-serif" font-size="30.5">0</text>
<text transform="translate(92.4,311.53) scale(0.94,1)" font-family="'Liberation Sans', sans-serif" font-size="24">3</text>
<path d="M763,0 L583,0 L583,1147 Q518,1085 412,1023 Q306,961 222,930 L222,1104 Q373,1175 486,1276 Q599,1377 646,1472 L763,1472 Z" transform="translate(58.60,178.74) scale(0.01489,-0.01489)" fill="#000"/>
<text x="75.56" y="178.74" font-family="'Liberation Sans', sans-serif" font-size="30.5">0</text>
<text transform="translate(92.4,164.94) scale(0.94,1)" font-family="'Liberation Sans', sans-serif" font-size="24">4</text>
<path d="M763,0 L583,0 L583,1147 Q518,1085 412,1023 Q306,961 222,930 L222,1104 Q373,1175 486,1276 Q599,1377 646,1472 L763,1472 Z" transform="translate(58.60,32.15) scale(0.01489,-0.01489)" fill="#000"/>
<text x="75.56" y="32.15" font-family="'Liberation Sans', sans-serif" font-size="30.5">0</text>
<text transform="translate(92.4,18.35) scale(0.94,1)" font-family="'Liberation Sans', sans-serif" font-size="24">5</text>
<text x="406.74" y="840.20" font-family="'Liberation Sans', sans-serif" font-size="30.5" fill="#000" textLength="17.58" lengthAdjust="spacingAndGlyphs" >δ</text>
<path d="M763,0 L583,0 L583,1147 Q518,1085 412,1023 Q306,961 222,930 L222,1104 Q373,1175 486,1276 Q599,1377 646,1472 L763,1472 Z" transform="translate(423.60,826.60) scale(0.01089,-0.01089)" fill="#000"/>
<text x="436.00" y="826.6" font-family="'Liberation Sans', sans-serif" font-size="22.3">3</text>
<text x="448.01" y="840.00" font-family="'Liberation Sans', sans-serif" font-size="30" fill="#000" textLength="22.93" lengthAdjust="spacingAndGlyphs" >C</text>
<text x="470.90" y="846.40" font-family="'Liberation Sans', sans-serif" font-size="19.8" fill="#000" textLength="44.18" lengthAdjust="spacingAndGlyphs" >CH4</text>
<text x="524.68" y="840.00" font-family="'Liberation Sans', sans-serif" font-size="30" fill="#000" textLength="168.87" lengthAdjust="spacingAndGlyphs" >(‰ vs. PDB)</text>
<g transform="translate(24.8,461.1) rotate(-90) scale(1.012,1.066)"><text x="0" y="0" font-family="'Liberation Sans', sans-serif" font-size="30.3">C</text><path d="M763,0 L583,0 L583,1147 Q518,1085 412,1023 Q306,961 222,930 L222,1104 Q373,1175 486,1276 Q599,1377 646,1472 L763,1472 Z" transform="translate(21.88,5.40) scale(0.01069,-0.01069)" fill="#000"/><text x="34.06" y="0" font-family="'Liberation Sans', sans-serif" font-size="30.3">/(C</text><text x="74.45" y="5.4" font-family="'Liberation Sans', sans-serif" font-size="21.9">2</text><text x="86.63" y="0" font-family="'Liberation Sans', sans-serif" font-size="30.3">+C</text><text x="126.21" y="5.4" font-family="'Liberation Sans', sans-serif" font-size="21.9">3</text><text x="138.39" y="0" font-family="'Liberation Sans', sans-serif" font-size="30.3">)</text></g>
<rect x="136" y="623.5" width="226" height="116" fill="#fff" stroke="#000" stroke-width="2"/>
<circle cx="158.80" cy="640.70" r="9.2" fill="#ff2508" stroke="#000" stroke-width="2.1"/>
<rect x="149.70" y="658.70" width="18.20" height="18.20" fill="#0630fa" stroke="#000" stroke-width="2.1"/>
<polygon points="158.80,683.90 168.24,700.25 149.36,700.25" fill="#fc9b0a" stroke="#000" stroke-width="2.1" stroke-linejoin="miter"/>
<polygon points="158.80,733.50 168.24,717.15 149.36,717.15" fill="#5cbc5c" stroke="#000" stroke-width="2.1" stroke-linejoin="miter"/>
<text x="182" y="648.3" font-family="'Liberation Sans', sans-serif" font-size="22.5" fill="#e4261a">Akita-Niigata</text>
<text x="182" y="675.3" font-family="'Liberation Sans', sans-serif" font-size="22.5" fill="#1432da">South Kanto</text>
<text x="182" y="703.0" font-family="'Liberation Sans', sans-serif" font-size="22.5" fill="#f0902c">South Taiwan</text>
<text x="182" y="730.2" font-family="'Liberation Sans', sans-serif" font-size="22.5" fill="#22dd22">Tokara Island</text>
</svg>
</body></html>
